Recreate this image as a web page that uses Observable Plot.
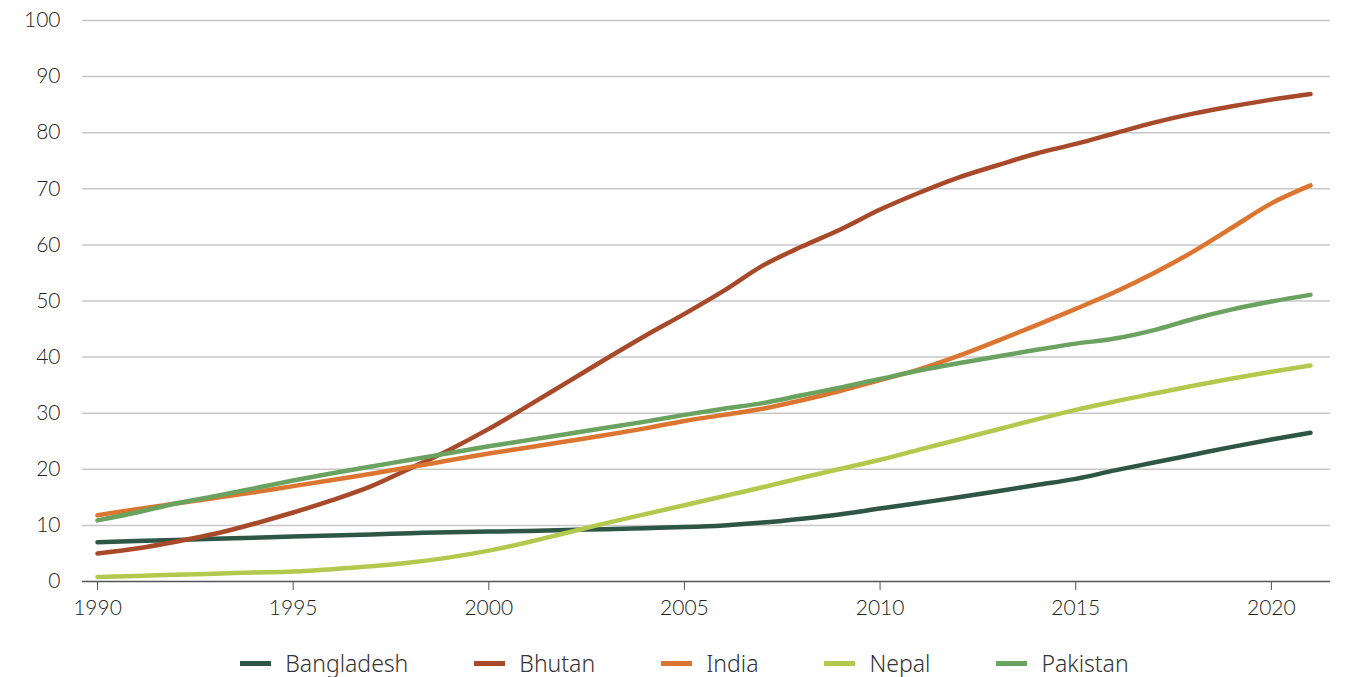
<!DOCTYPE html>
<html>
<head>
<meta charset="utf-8">
<script src="https://cdn.jsdelivr.net/npm/d3@7"></script>
<script src="https://cdn.jsdelivr.net/npm/@observablehq/plot@0.6"></script>
<style>
  body { margin: 0; background: #fff; }
  #chart svg { display: block; }
  .legend { display: flex; justify-content: center; font-family: "Noto Sans", "Open Sans", sans-serif; font-weight: 300; font-size: 23px; color: #333; margin-top: 17px; margin-left: 24px; }
  .legend .item { display: flex; align-items: center; margin: 0 33px; }
  .legend .sw { width: 31px; height: 5px; margin-right: 14px; }
</style>
</head>
<body>
<div id="chart"></div>
<script>
const years = d3.range(1990, 2022);
const countries = ["Bangladesh", "Bhutan", "India", "Nepal", "Pakistan"];
const colors = ["#2d5646", "#a8492a", "#dc7530", "#b3c94e", "#6aa35f"];
const bangladesh = [7.0,7.2,7.4,7.6,7.8,8.0,8.2,8.4,8.6,8.8,8.9,9.0,9.2,9.3,9.5,9.7,10.0,10.5,11.2,12.0,13.0,14.0,15.0,16.1,17.2,18.3,19.8,21.2,22.6,24.0,25.3,26.5];
const bhutan = [5.0,5.9,7.1,8.5,10.3,12.3,14.5,17.0,20.2,23.5,27.2,31.3,35.5,39.7,43.8,47.7,51.8,56.3,59.7,62.8,66.3,69.3,72.0,74.2,76.3,78.0,79.9,81.8,83.4,84.7,85.9,86.9];
const india = [11.8,12.9,13.9,14.9,15.9,17.0,18.1,19.2,20.4,21.6,22.8,23.9,25.0,26.1,27.3,28.6,29.7,30.8,32.3,34.0,35.9,37.8,40.2,42.9,45.7,48.6,51.6,55.0,58.8,63.1,67.4,70.6];
const nepal = [0.8,1.0,1.2,1.4,1.6,1.8,2.2,2.7,3.4,4.3,5.5,7.0,8.7,10.4,12.0,13.6,15.2,16.8,18.5,20.1,21.7,23.5,25.3,27.1,28.9,30.6,32.1,33.5,34.9,36.2,37.4,38.5];
const pakistan = [10.9,12.3,13.9,15.2,16.6,18.0,19.3,20.5,21.7,22.9,24.1,25.2,26.3,27.4,28.5,29.7,30.8,31.8,33.2,34.6,36.1,37.6,38.9,40.1,41.3,42.4,43.3,44.8,46.8,48.5,49.9,51.1];
const xTicks = [1990, 1995, 2000, 2005, 2010, 2015, 2020];
const yTicks = [0, 10, 20, 30, 40, 50, 60, 70, 80, 90, 100];

const series = [bangladesh, bhutan, india, nepal, pakistan];
const data = [];
countries.forEach((c, i) => series[i].forEach((v, j) => data.push({country: c, year: years[j], value: v})));

const chart = Plot.plot({
  width: 1345,
  height: 630,
  marginLeft: 82,
  marginRight: 15,
  marginTop: 20,
  marginBottom: 49,
  insetLeft: 15,
  insetRight: 20,
  style: { fontFamily: "Lato, 'Open Sans', sans-serif", fontSize: "21px", color: "#222", background: "#fff" },
  x: { domain: [1990, 2021], label: null },
  y: { domain: [0, 100], label: null },
  color: { domain: countries, range: colors },
  marks: [
    Plot.ruleY(yTicks.filter(d => d > 0), { stroke: "#c8c8c8", strokeWidth: 1.5 }),
    Plot.axisY(yTicks, { tickSize: 0, tickPadding: 22, fontSize: 21, label: null, fontWeight: 300 }),
    Plot.axisX(xTicks, { tickSize: 9, tickPadding: 10, fontSize: 21, tickFormat: d => String(d), label: null, stroke: "#555", fontWeight: 300 }),
    Plot.ruleY([0], { stroke: "#555", strokeWidth: 1.5 }),
    Plot.line(data, { x: "year", y: "value", z: "country", stroke: "country", strokeWidth: 4.5, curve: "monotone-x", strokeLinecap: "round" })
  ]
});
document.getElementById("chart").appendChild(chart);

const legend = document.createElement("div");
legend.className = "legend";
countries.forEach((c, i) => {
  const it = document.createElement("div");
  it.className = "item";
  const sw = document.createElement("span");
  sw.className = "sw";
  sw.style.background = colors[i];
  const tx = document.createElement("span");
  tx.textContent = c;
  it.appendChild(sw); it.appendChild(tx);
  legend.appendChild(it);
});
document.getElementById("chart").appendChild(legend);
</script>
</body>
</html>
